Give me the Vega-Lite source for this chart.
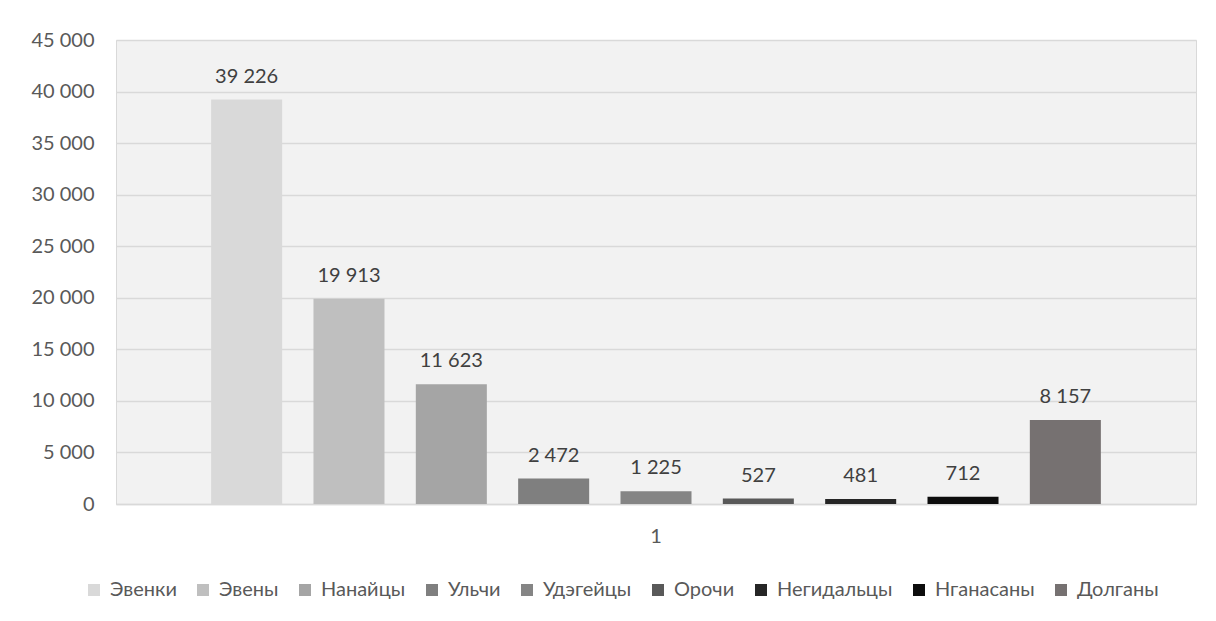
{
  "$schema": "https://vega.github.io/schema/vega-lite/v6.json",
  "width": 1080,
  "height": 464,
  "autosize": {"type": "none"},
  "padding": {"left": 116, "top": 40, "right": 20, "bottom": 117},
  "background": "white",
  "config": {
    "locale": {"number": {"decimal": ",", "thousands": " ", "grouping": [3], "currency": ["", ""]}},
    "font": "Lato",
    "view": {"stroke": "#d9d9d9", "strokeWidth": 1, "fill": "#f2f2f2"},
    "axis": {"labelFont": "Lato", "labelFontSize": 20, "labelColor": "#595959", "titleFont": "Lato"},
    "legend": {"labelFont": "Lato", "labelFontSize": 20, "labelColor": "#595959"}
  },
  "data": {
    "values": [
      {"group": "1", "people": "Эвенки", "value": 39226},
      {"group": "1", "people": "Эвены", "value": 19913},
      {"group": "1", "people": "Нанайцы", "value": 11623},
      {"group": "1", "people": "Ульчи", "value": 2472},
      {"group": "1", "people": "Удэгейцы", "value": 1225},
      {"group": "1", "people": "Орочи", "value": 527},
      {"group": "1", "people": "Негидальцы", "value": 481},
      {"group": "1", "people": "Нганасаны", "value": 712},
      {"group": "1", "people": "Долганы", "value": 8157}
    ]
  },
  "encoding": {
    "x": {
      "field": "group",
      "type": "nominal",
      "scale": {"paddingInner": 0, "paddingOuter": 0.0863},
      "axis": {
        "title": null,
        "labelAngle": 0,
        "ticks": false,
        "domain": true,
        "domainColor": "#d9d9d9",
        "domainWidth": 1.5,
        "labelPadding": 22
      }
    },
    "xOffset": {
      "field": "people",
      "type": "nominal",
      "sort": null,
      "scale": {"paddingInner": 0.306, "paddingOuter": 0.153}
    },
    "y": {
      "field": "value",
      "type": "quantitative",
      "scale": {"domain": [0, 45000], "nice": false},
      "axis": {
        "title": null,
        "values": [0, 5000, 10000, 15000, 20000, 25000, 30000, 35000, 40000, 45000],
        "format": ",.0f",
        "ticks": false,
        "domain": false,
        "grid": true,
        "gridColor": "#d9d9d9",
        "gridWidth": 1.3,
        "labelPadding": 22
      }
    }
  },
  "layer": [
    {
      "mark": {"type": "bar"},
      "encoding": {
        "color": {
          "field": "people",
          "type": "nominal",
          "sort": null,
          "scale": {
            "domain": ["Эвенки", "Эвены", "Нанайцы", "Ульчи", "Удэгейцы", "Орочи", "Негидальцы", "Нганасаны", "Долганы"],
            "range": ["#d9d9d9", "#bfbfbf", "#a5a5a5", "#7f7f7f", "#858585", "#595959", "#262626", "#0d0d0d", "#767171"]
          },
          "legend": {
            "title": null,
            "orient": "none",
            "direction": "horizontal",
            "legendX": -32,
            "legendY": 540,
            "symbolType": "square",
            "symbolSize": 144,
            "symbolStrokeWidth": 0,
            "labelOffset": 6,
            "columnPadding": 16
          }
        }
      }
    },
    {
      "mark": {"type": "text", "baseline": "alphabetic", "dy": -17, "fontSize": 20, "color": "#404040", "font": "Lato"},
      "encoding": {
        "text": {"field": "value", "type": "quantitative", "format": ","}
      }
    }
  ]
}
